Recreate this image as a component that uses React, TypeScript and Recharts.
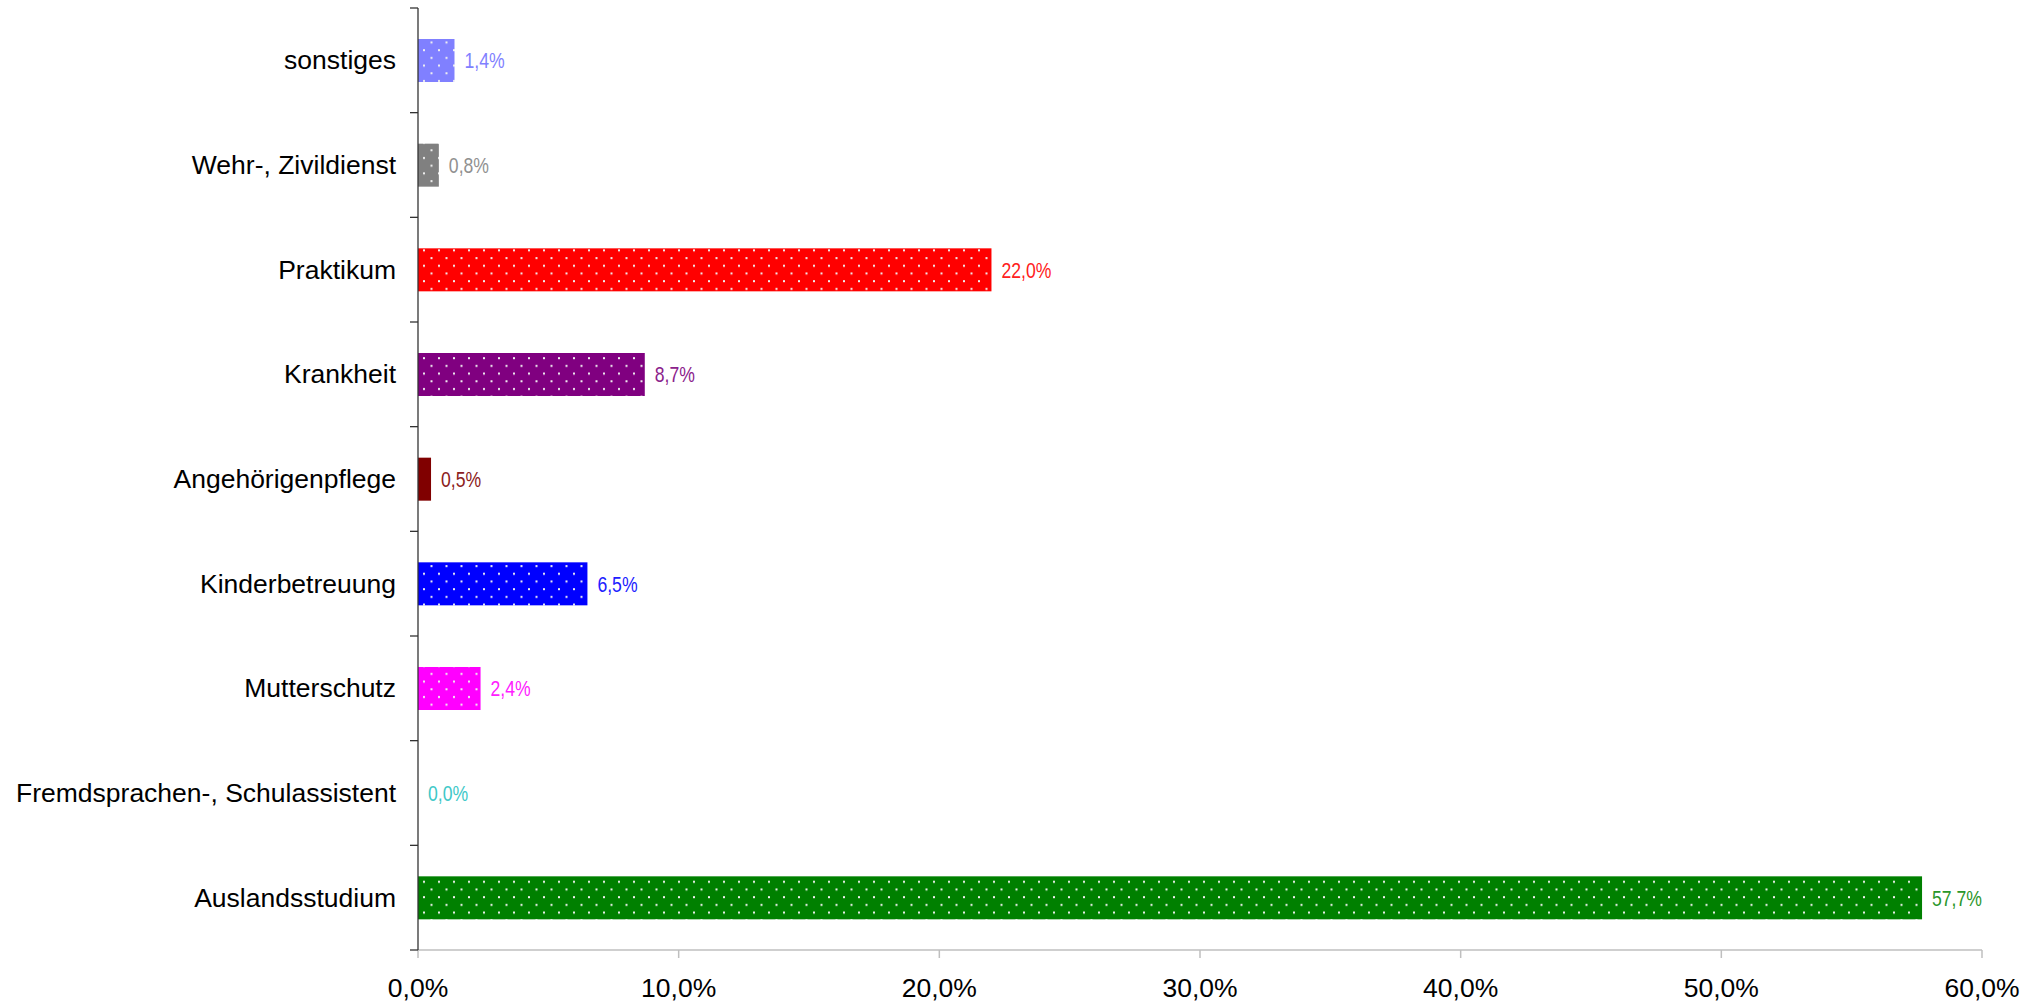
import React from "react";
import { BarChart, Bar, XAxis, YAxis, Cell } from "recharts";

const categories = [
  "sonstiges",
  "Wehr-, Zivildienst",
  "Praktikum",
  "Krankheit",
  "Angehörigenpflege",
  "Kinderbetreuung",
  "Mutterschutz",
  "Fremdsprachen-, Schulassistent",
  "Auslandsstudium",
];
const values = [1.4, 0.8, 22.0, 8.7, 0.5, 6.5, 2.4, 0.0, 57.7];
const barColors = ["#8080ff", "#808080", "#ff0000", "#800080", "#800000", "#0000ff", "#ff00ff", "#33cccc", "#008000"];
const labelColors = ["#8080ff", "#909090", "#ff2020", "#8b218b", "#8b2020", "#2020ff", "#ff20ff", "#40c8c8", "#2a962a"];
const dotted = [true, true, true, true, false, true, true, true, true];
const xTicks = [0, 10, 20, 30, 40, 50, 60];

const data = categories.map((name, i) => ({ name, value: values[i] }));

const fmt = (v: number) => v.toFixed(1).replace(".", ",") + "%";

const YTick = (props: any) => {
  const { x, y, payload, index } = props;
  const half = payload && payload.offset > 0 ? payload.offset : 942 / 18;
  const last = index === categories.length - 1;
  return (
    <g>
      <line x1={x - 8} x2={x} y1={y - half} y2={y - half} stroke="#333" strokeWidth={1.3} />
      {last && <line x1={x - 8} x2={x} y1={y + half} y2={y + half} stroke="#333" strokeWidth={1.3} />}
      <text x={x - 22} y={y} textAnchor="end" dominantBaseline="central" fontSize={26.5} fill="#000" fontFamily="'Liberation Sans', Arial, sans-serif">
        {payload.value}
      </text>
    </g>
  );
};

const BarShape = (props: any) => {
  const { x, y, width, height, payload, fill } = props;
  const i = categories.indexOf(payload.name);
  const w = Math.max(0, width || 0);
  const lx = x + w + 10;
  const cy = y + height / 2;
  return (
    <g>
      {w > 0 && <rect x={x} y={y} width={w} height={height} fill={fill} />}
      <text
        transform={`translate(${lx},${cy}) scale(0.8,1)`}
        x={0}
        y={0}
        dominantBaseline="central"
        fontSize={22}
        fill={labelColors[i]}
        fontFamily="'Liberation Sans', Arial, sans-serif"
      >
        {fmt(values[i])}
      </text>
    </g>
  );
};

export default function App() {
  return (
    <div style={{ position: "absolute", left: 0, top: 0, background: "#fff" }}>
      <BarChart
        width={2042}
        height={1004}
        data={data}
        layout="vertical"
        margin={{ top: 8, right: 60, bottom: 0, left: 0 }}
      >
        <defs>
          {barColors.map((c, i) => (
            <pattern key={i} id={`pat${i}`} patternUnits="userSpaceOnUse" width={15} height={15.4}>
              <rect x={0} y={0} width={15} height={15.4} fill={c} />
              {dotted[i] && <rect x={3} y={3} width={2} height={2} fill="#f0f0f0" />}
              {dotted[i] && <rect x={10.5} y={10.7} width={2} height={2} fill="#f0f0f0" />}
            </pattern>
          ))}
        </defs>
        <XAxis
          type="number"
          dataKey="value"
          domain={[0, 60]}
          ticks={xTicks}
          interval={0}
          tickFormatter={(v: number) => fmt(v)}
          axisLine={{ stroke: "#bfbfbf", strokeWidth: 1.5 }}
          tickLine={{ stroke: "#bfbfbf", strokeWidth: 1.5 }}
          tickSize={8}
          tickMargin={20}
          height={54}
          tick={{ fontSize: 26.5, fill: "#000", fontFamily: "'Liberation Sans', Arial, sans-serif" }}
        />
        <YAxis
          type="category"
          dataKey="name"
          width={418}
          interval={0}
          tickLine={false}
          tickSize={0}
          tickMargin={0}
          axisLine={{ stroke: "#333", strokeWidth: 1.3 }}
          tick={<YTick />}
        />
        <Bar dataKey="value" barSize={43} isAnimationActive={false} shape={<BarShape />}>
          {data.map((_, i) => (
            <Cell key={i} fill={`url(#pat${i})`} />
          ))}
        </Bar>
      </BarChart>
    </div>
  );
}
